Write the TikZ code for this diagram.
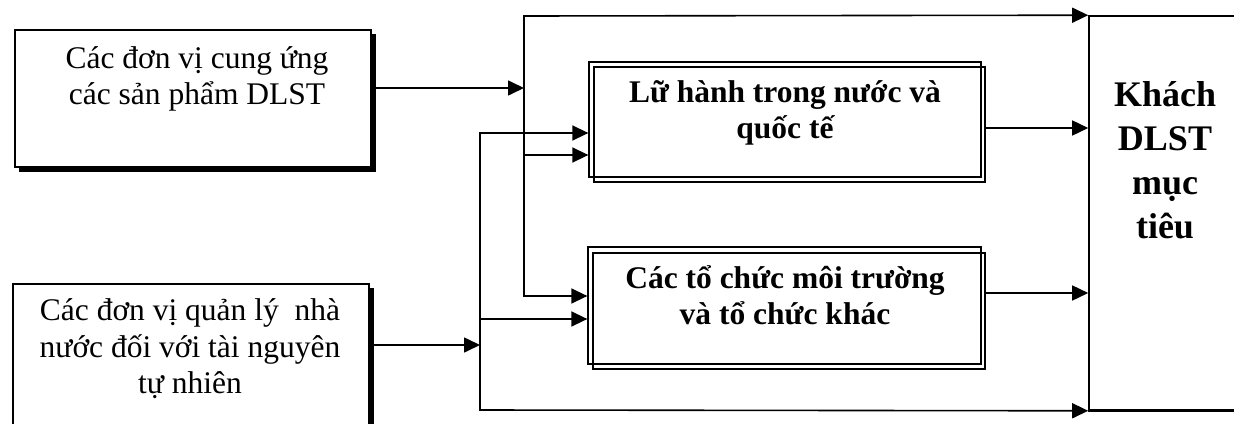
\documentclass[tikz,border=0pt]{standalone}
\usepackage{fontspec}
\setmainfont{Liberation Serif}
\usetikzlibrary{arrows.meta}
\tikzset{
  ln/.style={line width=1.6pt, line cap=rect},
  arr/.style={ln, -{Triangle[length=16pt,width=15pt]}},
  shadowbox/.style={draw, line width=1.3pt, fill=white, inner sep=0pt},
  dblbox/.style={draw, line width=1.3pt, inner sep=0pt},
  lefttxt/.style={align=center, font=\fontsize{31.5}{36.5}\selectfont},
  midtxt/.style={align=center, font=\fontsize{31.5}{36.5}\selectfont\bfseries},
  bigtxt/.style={align=center, font=\fontsize{36}{44}\selectfont\bfseries},
}
\begin{document}
\begin{tikzpicture}[x=1pt,y=-1pt]
\useasboundingbox (0,0) rectangle (1234,423);
\clip (0,0) rectangle (1234,423);
% left box 1 with shadow
\fill (19,34) rectangle (376,172);
\node[shadowbox, minimum width=356pt, minimum height=137pt] (box1) at (193,98.5) {};
\node[lefttxt] (t1) at (197,79) {Các đơn vị cung ứng\\các sản phẩm DLST};
% left box 2 with shadow
\fill (17,288) rectangle (374,440);
\node[shadowbox, minimum width=356pt, minimum height=150pt] (box2) at (191,359) {};
\node[lefttxt] (t2) at (190,349) {Các đơn vị quản lý~ nhà\\nước đối với tài nguyên\\tự nhiên};
% middle double boxes
\node[dblbox, minimum width=391pt, minimum height=115pt] (lh2) at (789.5,124.5) {};
\node[dblbox, minimum width=392pt, minimum height=115pt] (lh) at (785,119.5) {};
\node[midtxt] (t3) at (785,113) {Lữ hành trong nước và\\quốc tế};
\node[dblbox, minimum width=392pt, minimum height=116pt] (ct2) at (789,311) {};
\node[dblbox, minimum width=393pt, minimum height=117pt] (ct) at (784.5,305.5) {};
\node[midtxt] (t4) at (785,295) {Các tổ chức môi trường\\và tổ chức khác};
% right box
\node[draw, line width=1.6pt, minimum width=170pt, minimum height=394pt, inner sep=0pt] (kh) at (1174,213) {};
\draw[line width=3pt] (kh.south west) -- (kh.south east);
\node[bigtxt] (t5) at (1165,160) {Khách\\DLST\\mục\\tiêu};
% junction coordinates
\coordinate (a1) at (524,88);
\coordinate (atop) at (524,16);
\coordinate (abot) at (524,296);
\coordinate (a2) at (524,155);
\coordinate (b1) at (480,345);
\coordinate (btop) at (480,133);
\coordinate (bbot) at (480,410);
\coordinate (b2) at (480,319);
% connectors
\draw[arr] (box1.east |- a1) -- (a1);
\draw[arr] (box2.east |- b1) -- (b1);
\draw[ln] (atop) -- (abot);
\draw[ln] (btop) -- (bbot);
\draw[arr] (atop) -- (kh.north west);
\draw[arr] (btop) -- (lh.west |- btop);
\draw[arr] (a2) -- (lh.west |- a2);
\draw[arr] (abot) -- (ct.west |- abot);
\draw[arr] (b2) -- (ct.west |- b2);
\draw[arr] (lh2.east |- 0,128) -- (kh.west |- 0,128);
\draw[arr] (ct2.east |- 0,293) -- (kh.west |- 0,293);
\draw[arr] (bbot) -- (kh.south west);
\end{tikzpicture}
\end{document}
